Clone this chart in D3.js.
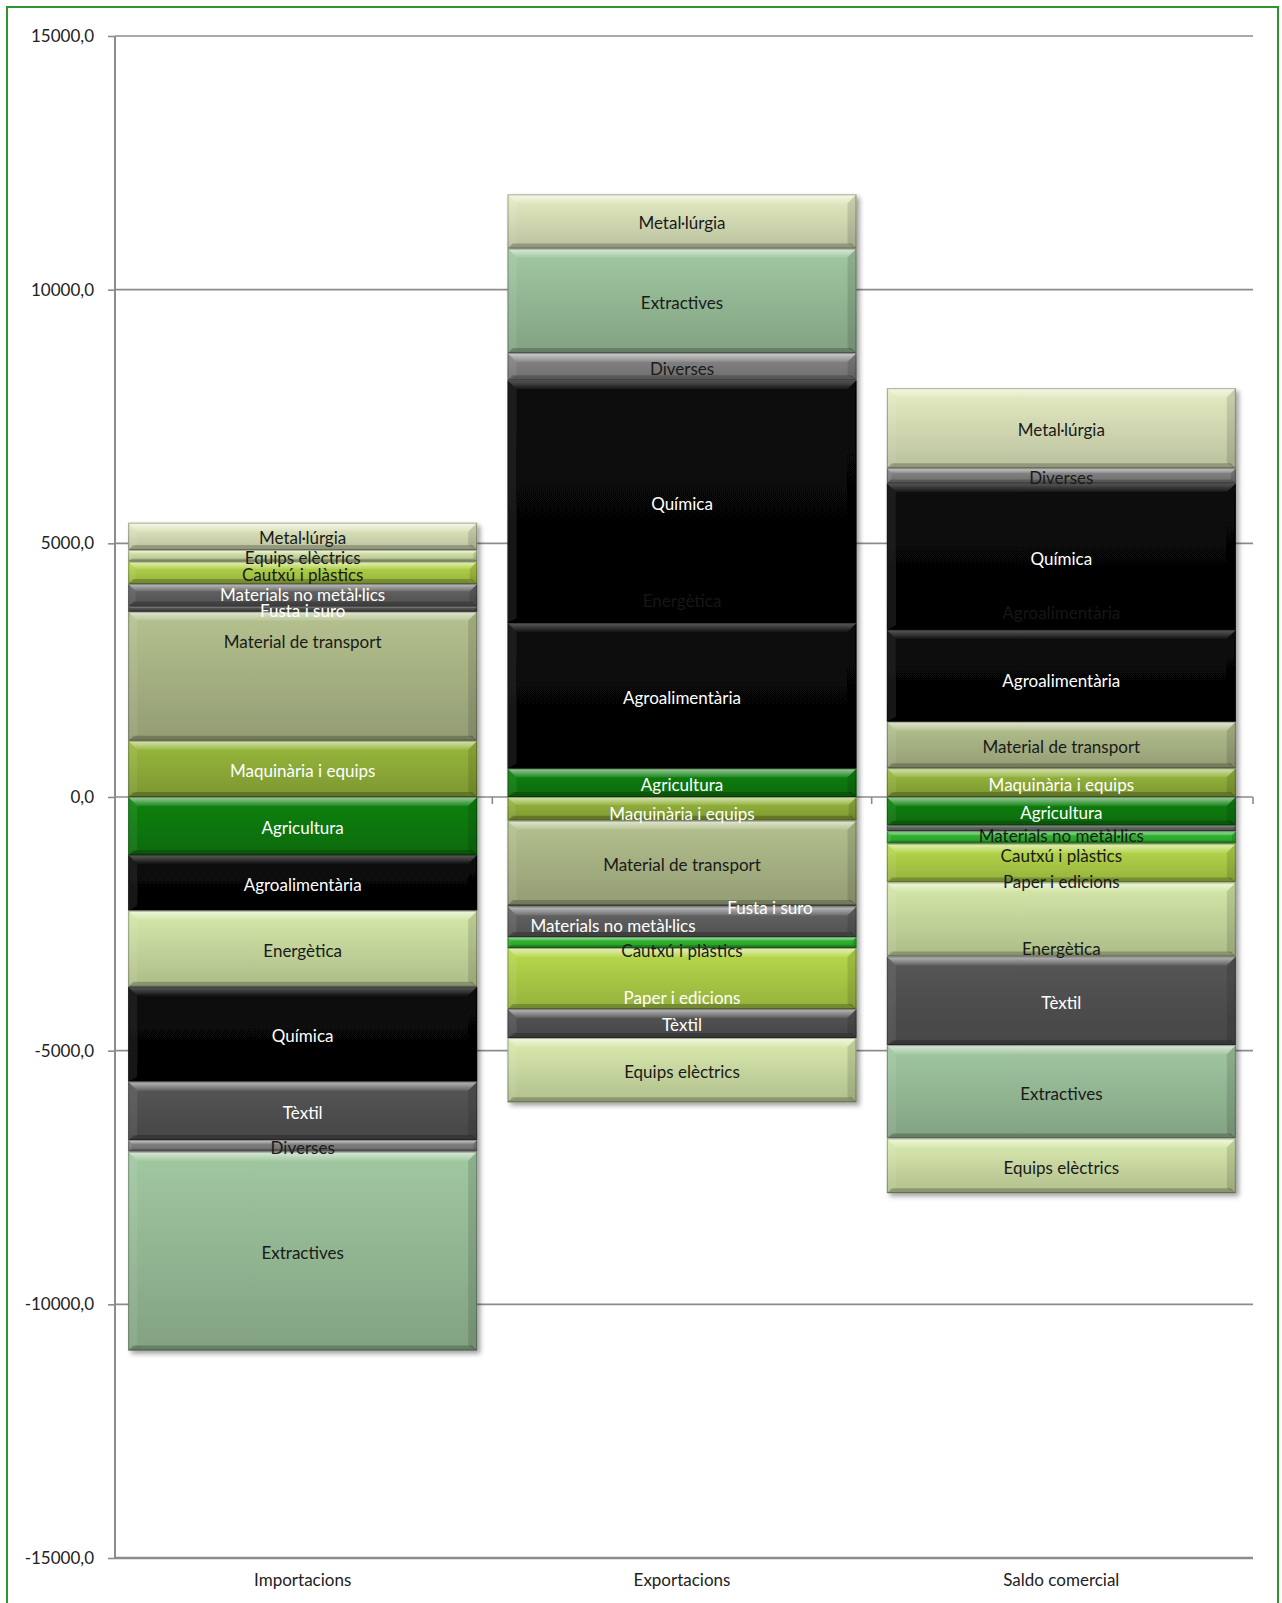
<!DOCTYPE html>
<html><head><meta charset="utf-8">
<script src="https://cdn.jsdelivr.net/npm/d3@7"></script>
<style>
body{margin:0;background:#fff}
svg{display:block}
text{font-family:Lato,"Open Sans",sans-serif}
</style>
</head><body>
<svg id="chart" width="1282" height="1603"></svg>
<script>
// ---------- DATA ----------
const categories = ["Importacions", "Exportacions", "Saldo comercial"];
const tickValues = [-15000, -10000, -5000, 0, 5000, 10000, 15000];

// stacking order: outward from zero (positive upward, negative downward)
const importacions = [
  ["Maquinària i equips", 1110],
  ["Material de transport", 2543],
  ["Fusta i suro", 100],
  ["Materials no metàl·lics", 447],
  ["Cautxú i plàstics", 440],
  ["Equips elèctrics", 230],
  ["Metal·lúrgia", 538],
  ["Agricultura", -1143],
  ["Agroalimentària", -1098],
  ["Energètica", -1498],
  ["Química", -1873],
  ["Tèxtil", -1149],
  ["Diverses", -230],
  ["Extractives", -3919]
];
const exportacions = [
  ["Agricultura", 560],
  ["Agroalimentària", 2870],
  ["Energètica", 0],
  ["Química", 4784],
  ["Diverses", 538],
  ["Extractives", 2058],
  ["Metal·lúrgia", 1070],
  ["Maquinària i equips", -467],
  ["Material de transport", -1662],
  ["Fusta i suro", -30],
  ["Materials no metàl·lics", -600],
  ["Paper i edicions", -217],
  ["Cautxú i plàstics", -1202],
  ["Tèxtil", -572],
  ["Equips elèctrics", -1269]
];
const saldoComercial = [
  ["Maquinària i equips", 566],
  ["Material de transport", 919],
  ["Agroalimentària", 1808],
  ["Agroalimentària", 0],
  ["Química", 2892],
  ["Diverses", 296],
  ["Metal·lúrgia", 1577],
  ["Agricultura", -566],
  ["Materials no metàl·lics", -112],
  ["Paper i edicions", -243],
  ["Cautxú i plàstics", -763],
  ["Energètica", -1459],
  ["Tèxtil", -1748],
  ["Extractives", -1839],
  ["Equips elèctrics", -1078]
];
const columns = [importacions, exportacions, saldoComercial];

// ---------- STYLE ----------
const palette = {
  "Metal·lúrgia": "#d2d9b2",
  "Equips elèctrics": "#c8d8a0",
  "Cautxú i plàstics": "#a9c845",
  "Materials no metàl·lics": "#5c5c5c",
  "Fusta i suro": "#4c4c4c",
  "Material de transport": "#a6b183",
  "Maquinària i equips": "#8caa38",
  "Agricultura": "#0a780a",
  "Agroalimentària": "#050505",
  "Energètica": "#c4d59b",
  "Química": "#050505",
  "Tèxtil": "#4f4f4f",
  "Diverses": "#7c7c7c",
  "Extractives": "#93b793",
  "Paper i edicions": "#2fae2f"
};
// label placement adjustments (px) and text colour overrides
const nudge = {
  "Importacions|Material de transport": {dy: -36},
  "Importacions|Materials no metàl·lics": {dy: -2},
  "Exportacions|Energètica|ghost": {dy: -24},
  "Exportacions|Maquinària i equips": {dy: 3},
  "Exportacions|Fusta i suro": {dx: 88, dy: 0},
  "Exportacions|Materials no metàl·lics": {dx: -69, dy: 2},
  "Exportacions|Paper i edicions": {dy: 54},
  "Exportacions|Cautxú i plàstics": {dy: -29},
  "Saldo comercial|Agroalimentària|ghost": {dy: -19},
  "Saldo comercial|Agroalimentària": {dy: 3},
  "Saldo comercial|Materials no metàl·lics": {dy: 5},
  "Saldo comercial|Paper i edicions": {dy: 42},
  "Saldo comercial|Cautxú i plàstics": {dy: -9},
  "Saldo comercial|Energètica": {dy: 28}
};
const textOverride = {
  "Saldo comercial|Materials no metàl·lics": "#1a1a1a",
  "Saldo comercial|Paper i edicions": "#1a1a1a",
  "Exportacions|Energètica|ghost": "#161616",
  "Saldo comercial|Agroalimentària|ghost": "#161616"
};

// ---------- CHART ----------
const svg = d3.select("#chart");
const plotL = 115, plotR = 1253, plotT = 36, plotB = 1558;

svg.append("rect").attr("x", 7).attr("y", 7).attr("width", 1271).attr("height", 1640)
  .attr("fill", "#fff").attr("stroke", "#2e962e").attr("stroke-width", 2);

const y = d3.scaleLinear().domain([-15000, 15000]).range([plotB, plotT]);
const x = d3.scaleBand().domain(categories).range([plotL - 2, plotR - 2]).paddingInner(0.08).paddingOuter(0.04);

const defs = svg.append("defs");
const f = defs.append("filter").attr("id", "shadow").attr("x", "-5%").attr("y", "-5%").attr("width", "115%").attr("height", "115%");
f.append("feDropShadow").attr("dx", 3).attr("dy", 3).attr("stdDeviation", 2.5)
  .attr("flood-color", "#000").attr("flood-opacity", 0.38);

const gradId = {};
Object.entries(palette).forEach(([name, c], i) => {
  const id = "g" + i;
  gradId[name] = id;
  const base = d3.rgb(c);
  const dark = d3.hsl(c).l < 0.1;
  const lg = defs.append("linearGradient").attr("id", id).attr("x1", 0).attr("y1", 0).attr("x2", 0).attr("y2", 1);
  if (dark) {
    lg.append("stop").attr("offset", 0).attr("stop-color", "#0a0a0a");
    lg.append("stop").attr("offset", 1).attr("stop-color", "#030303");
  } else {
    lg.append("stop").attr("offset", 0).attr("stop-color", base.brighter(0.25).formatHex());
    lg.append("stop").attr("offset", 1).attr("stop-color", base.darker(0.35).formatHex());
  }
});
const hi = defs.append("linearGradient").attr("id", "hi").attr("x1", 0).attr("y1", 0).attr("x2", 0).attr("y2", 1);
hi.append("stop").attr("offset", 0).attr("stop-color", "#fff").attr("stop-opacity", 0.6);
hi.append("stop").attr("offset", 1).attr("stop-color", "#fff").attr("stop-opacity", 0.08);

// gridlines
const grid = svg.append("g");
grid.selectAll("line").data(tickValues).join("line")
  .attr("x1", plotL).attr("x2", plotR)
  .attr("y1", d => y(d)).attr("y2", d => y(d))
  .attr("stroke", "#8c8c8c").attr("stroke-width", d => d === -15000 ? 2.5 : 1.6);

// category tick marks on the zero line
const bounds = categories.map(c => x(c) - x.step() * x.paddingInner() / 2).concat([plotR]);
grid.selectAll("line.ct").data(bounds.slice(1)).join("line").attr("class", "ct")
  .attr("x1", d => d).attr("x2", d => d).attr("y1", y(0)).attr("y2", y(0) + 7)
  .attr("stroke", "#8c8c8c").attr("stroke-width", 1.6);

// y axis
const fmt = d => (d < 0 ? "-" : "") + Math.abs(d).toFixed(1).replace(".", ",");
const ax = svg.append("g").attr("transform", `translate(${plotL},0)`)
  .call(d3.axisLeft(y).tickValues(tickValues).tickFormat(fmt).tickSize(7).tickPadding(14));
ax.select(".domain").attr("stroke", "#8c8c8c").attr("stroke-width", 2).attr("d", `M0,${plotT}V${plotB}`);
ax.selectAll(".tick line").attr("stroke", "#8c8c8c").attr("stroke-width", 1.6);
ax.selectAll(".tick text").attr("font-size", 17).attr("fill", "#222").attr("font-family", "Lato, sans-serif");

// category labels
svg.append("g").selectAll("text").data(categories).join("text")
  .attr("x", d => x(d) + x.bandwidth() / 2).attr("y", 1586)
  .attr("text-anchor", "middle").attr("font-size", 17).attr("fill", "#222").text(d => d);

// bars
categories.forEach((cat, ci) => {
  let pos = 0, neg = 0;
  const segs = columns[ci].map(([name, v]) => {
    let y0, y1;
    if (v >= 0) { y0 = pos; y1 = pos + v; pos = y1; }
    else { y0 = neg; y1 = neg + v; neg = y1; }
    return {name, v, top: y(Math.max(y0, y1)), bot: y(Math.min(y0, y1))};
  });
  const x0 = x(cat), bw = x.bandwidth();
  const g = svg.append("g").attr("filter", "url(#shadow)");
  segs.filter(s => s.v !== 0).forEach(s => {
    const h = s.bot - s.top;
    const sg = g.append("g");
    sg.append("rect").attr("x", x0).attr("y", s.top).attr("width", bw).attr("height", h)
      .attr("fill", `url(#${gradId[s.name]})`);
    const b = Math.min(9, h / 3);
    sg.append("path").attr("d", `M${x0},${s.top}H${x0 + bw}L${x0 + bw - b},${s.top + b}H${x0 + b}Z`)
      .attr("fill", "url(#hi)").attr("opacity", d3.hsl(palette[s.name]).l < 0.1 ? 0.55 : 1);
    const bb = Math.min(5, h / 4);
    sg.append("path").attr("d", `M${x0},${s.bot}H${x0 + bw}L${x0 + bw - bb},${s.bot - bb}H${x0 + bb}Z`)
      .attr("fill", "#000").attr("opacity", 0.22);
    sg.append("path").attr("d", `M${x0},${s.top}L${x0 + b},${s.top + b}V${s.bot - bb}L${x0},${s.bot}Z`)
      .attr("fill", "#fff").attr("opacity", 0.08);
    sg.append("path").attr("d", `M${x0 + bw},${s.top}L${x0 + bw - b},${s.top + b}V${s.bot - bb}L${x0 + bw},${s.bot}Z`)
      .attr("fill", "#000").attr("opacity", 0.12);
    sg.append("rect").attr("x", x0 + 0.5).attr("y", s.top + 0.5).attr("width", bw - 1).attr("height", Math.max(0, h - 1))
      .attr("fill", "none").attr("stroke", "#000").attr("stroke-opacity", 0.3).attr("stroke-width", 1);
  });
  const lg = svg.append("g");
  segs.forEach(s => {
    const key = cat + "|" + s.name + (s.v === 0 ? "|ghost" : "");
    const n = nudge[key] || {};
    const col = textOverride[key] || (d3.hsl(palette[s.name]).l < 0.45 ? "#ffffff" : "#1a1a1a");
    lg.append("text")
      .attr("x", x0 + bw / 2 + (n.dx || 0))
      .attr("y", (s.top + s.bot) / 2 + 2 + (n.dy || 0))
      .attr("dy", "0.35em").attr("text-anchor", "middle")
      .attr("font-size", 17).attr("fill", col).text(s.name);
  });
});
</script>
</body></html>
